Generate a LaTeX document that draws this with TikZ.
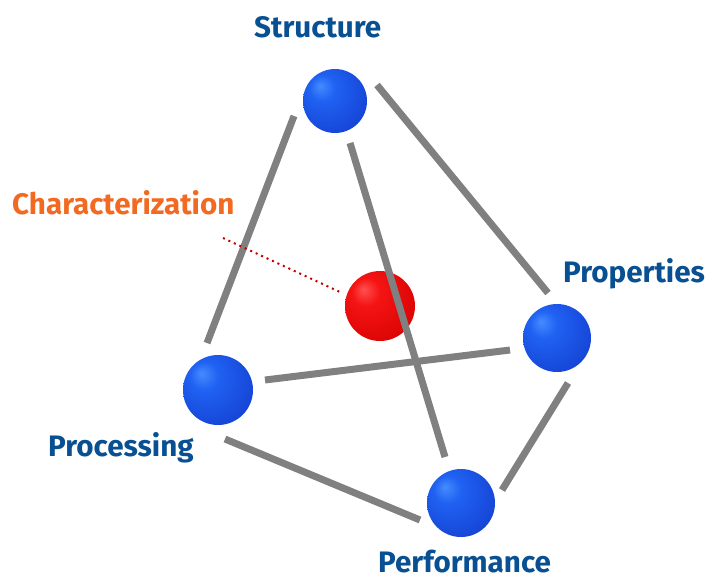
\documentclass[tikz,border=0pt]{standalone}
\usepackage{fontspec}
\setmainfont{Fira Sans}
\definecolor{lbl}{RGB}{8,80,145}
\definecolor{orng}{RGB}{242,106,33}
\definecolor{edge}{RGB}{128,128,128}
\definecolor{dotred}{RGB}{190,0,0}
\definecolor{b1}{RGB}{70,140,255}
\definecolor{b2}{RGB}{32,98,242}
\definecolor{b3}{RGB}{22,70,215}
\definecolor{b4}{RGB}{15,45,160}
\definecolor{r1}{RGB}{255,80,80}
\definecolor{r2}{RGB}{245,20,20}
\definecolor{r3}{RGB}{220,5,5}
\definecolor{r4}{RGB}{170,0,0}
\pgfdeclareradialshading{blueball}{\pgfpoint{-12bp}{12bp}}{color(0bp)=(b1); color(10bp)=(b2); color(32bp)=(b3); color(62bp)=(b4)}
\pgfdeclareradialshading{redball}{\pgfpoint{-12bp}{12bp}}{color(0bp)=(r1); color(10bp)=(r2); color(32bp)=(r3); color(62bp)=(r4)}
\begin{document}
\begin{tikzpicture}[x=1pt,y=-1pt,
  bball/.style={circle,inner sep=0pt,minimum size=#1,shading=blueball},
  rball/.style={circle,inner sep=0pt,minimum size=#1,shading=redball},
  conn/.style={draw=edge,line width=7pt},
  dotline/.style={draw=dotred,line width=2pt,dash pattern=on 2pt off 4pt},
  lab/.style={font=\bfseries\fontsize{29.6}{30}\selectfont,text=lbl,inner sep=0pt,anchor=base west},
  olab/.style={lab,text=orng}]
\useasboundingbox (0,0) rectangle (708,579);
% red sphere (behind)
\node[rball=70pt] (red) at (380,306) {};
% spheres
\node[bball=64pt] (str) at (335,101) {};
\node[bball=70pt] (proc) at (218,390) {};
\node[bball=68pt] (prop) at (557,338) {};
\node[bball=68pt] (perf) at (461,503) {};
% connectors
\draw[conn] ([shift={(-41,15)}]str.center) -- ([shift={(-11,-47)}]proc.center);
\draw[conn] ([shift={(42,-16)}]str.center) -- ([shift={(-9,-45)}]prop.center);
\draw[conn] ([shift={(15,42)}]str.center) -- ([shift={(-16,-46)}]perf.center);
\draw[conn] ([shift={(47,-10)}]proc.center) -- ([shift={(-47,12)}]prop.center);
\draw[conn] ([shift={(7,49)}]proc.center) -- ([shift={(-41,17)}]perf.center);
\draw[conn] ([shift={(11,45)}]prop.center) -- ([shift={(41,-13)}]perf.center);
% characterization pointer
\coordinate (cend) at (223,238);
\draw[dotline] (cend) -- ([shift={(-40,-14)}]red.center);
% labels
\node[lab] (tstr) at (254,37) {Structure};
\node[olab] (tchar) at (12,214) {Characterization};
\node[lab] (tprop) at (563,282) {Properties};
\node[lab] (tproc) at (48,456) {Processing};
\node[lab] (tperf) at (378,572) {Performance};
\end{tikzpicture}
\end{document}
